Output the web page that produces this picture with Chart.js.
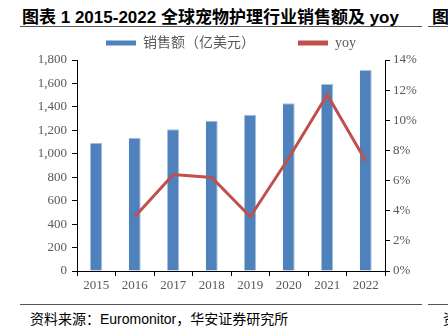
<!DOCTYPE html>
<html><head><meta charset="utf-8">
<script src="https://cdn.jsdelivr.net/npm/chart.js@4/dist/chart.umd.min.js"></script>
<style>
html,body{margin:0;padding:0;background:#fff;width:448px;height:336px;overflow:hidden;position:relative;}
.t{position:absolute;white-space:nowrap;color:#000;}
#title{left:22px;top:3px;font:bold 17px "Liberation Sans","Noto Sans CJK SC",sans-serif;}
#title2{left:432px;top:3px;font:bold 17px "Noto Sans CJK SC",sans-serif;}
.hl{position:absolute;height:1px;background:#555;}
#src{left:30px;top:308px;font:14px "Liberation Sans","Noto Sans CJK SC",sans-serif;}
#src2{left:443px;top:308px;font:14px "Noto Sans CJK SC",sans-serif;}
#wrap{position:absolute;left:0;top:28px;width:448px;height:273px;}
</style></head><body>
<div id="title" class="t">图表 1 2015-2022 全球宠物护理行业销售额及 yoy</div>
<div id="title2" class="t">图</div>
<div class="hl" style="left:20px;top:26px;width:402px;"></div>
<div class="hl" style="left:428px;top:26px;width:20px;"></div>
<div class="hl" style="left:20px;top:304px;width:402px;"></div>
<div class="hl" style="left:428px;top:304px;width:20px;"></div>
<div id="src" class="t">资料来源：Euromonitor，华安证券研究所</div>
<div id="src2" class="t">资</div>
<div id="wrap"><canvas id="c" width="448" height="273"></canvas></div>
<script>
const years = ["2015","2016","2017","2018","2019","2020","2021","2022"];
const sales = [1095, 1137, 1209, 1282, 1333, 1430, 1595, 1715];
const yoy = [null, 3.6, 6.4, 6.2, 3.6, 7.5, 11.7, 7.3];
const salesLabel = "销售额（亿美元）";
const yoyLabel = "yoy";

const gray = "#595959";
const tickFont = {family: '"Liberation Serif","Times New Roman",serif', size: 13};

new Chart(document.getElementById("c"), {
  data: {
    labels: years,
    datasets: [
      {type: "line", label: yoyLabel, data: yoy, yAxisID: "y1", borderColor: "#C0504D", backgroundColor: "#C0504D",
       borderWidth: 3, pointRadius: 0, tension: 0, order: 0},
      {type: "bar", label: salesLabel, data: sales, yAxisID: "y", backgroundColor: "#4F81BD",
       borderColor: "#A8C0DE", borderWidth: {top: 1, left: 0, right: 1, bottom: 0}, barPercentage: 0.62, categoryPercentage: 0.5, order: 1}
    ]
  },
  options: {
    responsive: false, animation: false, devicePixelRatio: 1,
    layout: {padding: {left: 14, right: 0, top: 0, bottom: 0}},
    plugins: {
      tooltip: {enabled: false},
      legend: {
        position: "top",
        labels: {
          color: gray,
          font: {family: '"Liberation Serif","Noto Sans CJK SC",serif', size: 14},
          boxWidth: 30, boxHeight: 5, padding: 8,
          generateLabels(chart) {
            const ds = chart.data.datasets;
            return [
              {text: ds[1].label + "          ", fillStyle: "#4F81BD", strokeStyle: "#4F81BD", lineWidth: 0, datasetIndex: 1, fontColor: gray},
              {text: ds[0].label, fillStyle: "#C0504D", strokeStyle: "#C0504D", lineWidth: 0, datasetIndex: 0, fontColor: gray}
            ];
          }
        }
      }
    },
    scales: {
      x: {
        offset: true,
        grid: {offset: true, drawOnChartArea: false, drawTicks: true, tickLength: 5, color: "#000"},
        border: {color: "#000", width: 1},
        ticks: {color: gray, font: tickFont, maxRotation: 0, padding: 2},
        afterFit(s) { s.height = 30; }
      },
      y: {
        position: "left", min: 0, max: 1800,
        grid: {drawOnChartArea: false, tickLength: 5, color: "#000"},
        border: {color: "#000", width: 1},
        ticks: {stepSize: 200, color: gray, font: tickFont, padding: 5,
          callback: v => v.toLocaleString("en-US")},
        afterFit(s) { s.width = 63; }
      },
      y1: {
        position: "right", min: 0, max: 14,
        grid: {drawOnChartArea: false, tickLength: 5, color: "#000"},
        border: {color: "#000", width: 1},
        ticks: {stepSize: 2, color: gray, font: tickFont, padding: 3, callback: v => v + "%"},
        afterFit(s) { s.width = 63; }
      }
    }
  }
});
</script>
</body></html>
